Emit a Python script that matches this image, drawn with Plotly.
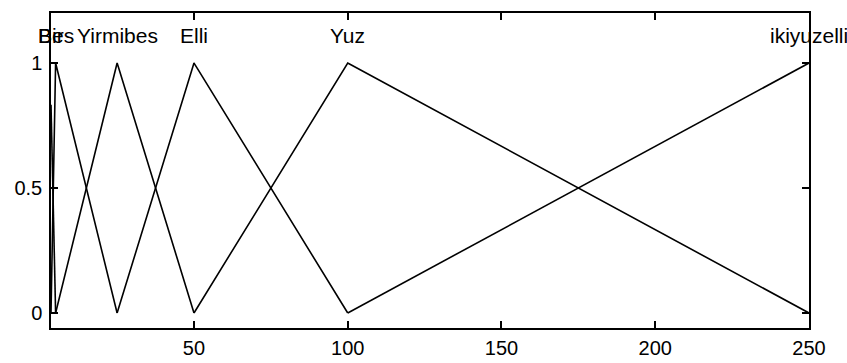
import numpy as np
import plotly.graph_objects as go

# Input variable range and triangular membership functions (a, b, c)
x_range = [3.5, 250]
mf_names = ["Bir", "Bes", "Yirmibes", "Elli", "Yuz", "ikiyuzelli"]
mf_params = [
    [1, 3.2, 5],
    [3.5, 5, 25],
    [5, 25, 50],
    [25, 50, 100],
    [50, 100, 250],
    [100, 250, 400],
]
x_ticks = [50, 100, 150, 200, 250]
y_ticks = [0, 0.5, 1]
y_tick_text = ["0", "0.5", "1"]
n_points = 181


def trimf(x, a, b, c):
    left = (x - a) / (b - a) if b != a else np.ones_like(x)
    right = (c - x) / (c - b) if c != b else np.ones_like(x)
    return np.clip(np.minimum(left, right), 0, 1)


def support_only(x, y):
    # keep only the non-zero part of a curve plus its neighbouring zero points
    idx = np.arange(len(y))
    keep = y > 0
    keep = keep | (np.roll(keep, 1) & (idx > 0)) | (np.roll(keep, -1) & (idx < len(y) - 1))
    return x[keep], y[keep]


base = np.linspace(x_range[0], x_range[1], n_points)
label_font = dict(family="Liberation Sans, Arial, sans-serif", size=21, color="black")
tick_font = dict(family="Liberation Sans, Arial, sans-serif", size=20, color="black")

fig = go.Figure()
for name, (a, b, c) in zip(mf_names, mf_params):
    pts = [p for p in (a, b, c) if x_range[0] <= p <= x_range[1]]
    xs = np.unique(np.concatenate([base, pts]))
    xs_k, ys_k = support_only(xs, trimf(xs, a, b, c))
    fig.add_trace(go.Scatter(
        x=xs_k, y=ys_k, mode="lines", name=name,
        line=dict(color="black", width=1.6), cliponaxis=False,
        hoverinfo="skip", showlegend=False,
    ))
    label_x = min(max(b, x_range[0]), x_range[1])
    fig.add_annotation(x=label_x, y=1.11, text=name, showarrow=False,
                       xanchor="center", yanchor="middle", font=label_font)

axis_common = dict(
    showline=True, linecolor="black", linewidth=1.5, mirror="ticks",
    ticks="inside", ticklen=7, tickwidth=1.5, tickcolor="black",
    showgrid=False, zeroline=False, tickfont=tick_font, automargin=False,
)
fig.update_xaxes(range=x_range, tickvals=x_ticks, ticklabelstandoff=1, **axis_common)
fig.update_yaxes(range=[-0.06, 1.2], tickvals=y_ticks, ticktext=y_tick_text,
                 ticklabelstandoff=3, **axis_common)

fig.update_layout(
    width=847, height=363,
    margin=dict(l=51, r=38, t=13, b=35),
    paper_bgcolor="white", plot_bgcolor="white",
    font=tick_font,
)

fig.write_html("out.html")
